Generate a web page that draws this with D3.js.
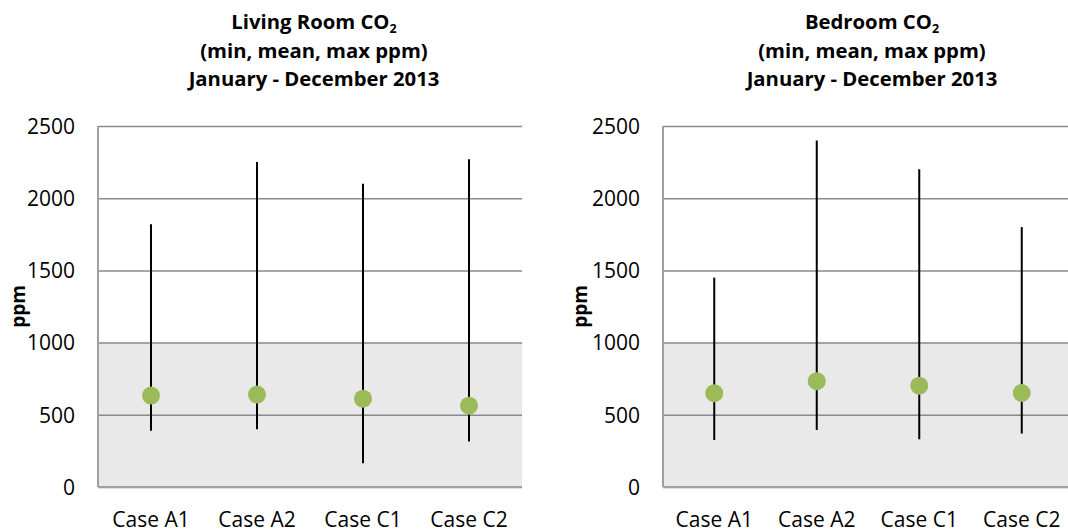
<!DOCTYPE html>
<html>
<head>
<meta charset="utf-8">
<script src="https://cdn.jsdelivr.net/npm/d3@7"></script>
<style>
  body { margin: 0; background: #fff; }
  svg { display: block; font-family: "Open Sans", sans-serif; }
</style>
</head>
<body>
<svg id="chart" width="1068" height="532"></svg>
<script>
// values (ppm)
const categories = ["Case A1", "Case A2", "Case C1", "Case C2"]

const livingMin = [390, 400, 165, 315]
const livingMean = [633, 640, 612, 563]
const livingMax = [1820, 2250, 2100, 2270]

const bedroomMin = [325, 395, 330, 370]
const bedroomMean = [650, 733, 702, 651]
const bedroomMax = [1450, 2400, 2200, 1800]

const yTicks = [0, 500, 1000, 1500, 2000, 2500]
const shadeLimit = 1000

const svg = d3.select("#chart")

drawPanel({
    room: "Living Room",
    left: 98, width: 424,
    tickRight: 75, labelX: 18,
    min: livingMin, mean: livingMean, max: livingMax
})

drawPanel({
    room: "Bedroom",
    left: 663, width: 410,
    tickRight: 640, labelX: 580,
    min: bedroomMin, mean: bedroomMean, max: bedroomMax
})

function drawPanel(p) {
    const top = 126
    const bottom = 487

    const x = d3.scaleBand()
        .domain(categories)
        .range([p.left, p.left + p.width])

    const y = d3.scaleLinear()
        .domain([0, 2500])
        .range([bottom, top])

    const g = svg.append("g")

    // grey band under 1000 ppm
    g.append("rect")
        .attr("x", p.left)
        .attr("y", y(shadeLimit))
        .attr("width", p.width)
        .attr("height", y(0) - y(shadeLimit))
        .attr("fill", "#e9e9e9")

    // gridlines + tick labels
    const yAxis = g.append("g")
        .attr("transform", `translate(${p.left},0)`)
        .call(d3.axisLeft(y).tickValues(yTicks).tickFormat(d3.format("d")).tickSize(-p.width))
    yAxis.select(".domain").remove()
    yAxis.selectAll(".tick line")
        .attr("stroke", "#8a8a8a")
        .attr("stroke-width", 1.5)
    yAxis.selectAll(".tick text")
        .attr("x", p.tickRight - p.left)
        .attr("dy", "0.35em")
        .attr("fill", "#000")
        .style("font-size", "21px")
        .style("font-family", "'Open Sans', sans-serif")

    // axis lines
    g.append("line")
        .attr("x1", p.left).attr("x2", p.left)
        .attr("y1", top).attr("y2", bottom)
        .attr("stroke", "#a0a0a0")
        .attr("stroke-width", 2)
    g.append("line")
        .attr("x1", p.left).attr("x2", p.left + p.width)
        .attr("y1", bottom).attr("y2", bottom)
        .attr("stroke", "#a0a0a0")
        .attr("stroke-width", 2)

    // category labels
    const xAxis = g.append("g")
        .attr("transform", `translate(0,${bottom})`)
        .call(d3.axisBottom(x).tickSize(0).tickPadding(0))
    xAxis.select(".domain").remove()
    xAxis.selectAll(".tick text")
        .attr("y", 40)
        .attr("dy", 0)
        .attr("fill", "#000")
        .style("font-size", "21px")
        .style("font-family", "'Open Sans', sans-serif")

    // min-max lines
    const rows = categories.map((c, i) => ({ cat: c, min: p.min[i], mean: p.mean[i], max: p.max[i] }))

    g.selectAll(".range")
        .data(rows)
        .enter()
        .append("line")
        .attr("class", "range")
        .attr("x1", d => x(d.cat) + x.bandwidth() / 2)
        .attr("x2", d => x(d.cat) + x.bandwidth() / 2)
        .attr("y1", d => y(d.min))
        .attr("y2", d => y(d.max))
        .attr("stroke", "#000")
        .attr("stroke-width", 2)

    // mean markers
    g.selectAll(".mean")
        .data(rows)
        .enter()
        .append("circle")
        .attr("class", "mean")
        .attr("cx", d => x(d.cat) + x.bandwidth() / 2)
        .attr("cy", d => y(d.mean))
        .attr("r", 9)
        .attr("fill", "#9bbb59")

    // y label
    g.append("text")
        .attr("transform", `translate(${p.labelX + 7},${(top + bottom) / 2}) rotate(-90)`)
        .attr("text-anchor", "middle")
        .style("font-size", "19px")
        .style("font-weight", "bold")
        .text("ppm")

    // title
    const cx = p.left + p.width / 2 + 4
    const t1 = g.append("text")
        .attr("x", cx).attr("y", 29)
        .attr("text-anchor", "middle")
        .style("font-size", "20.3px")
        .style("font-weight", "bold")
    t1.append("tspan").text(p.room + " CO")
    t1.append("tspan").attr("dy", 4).style("font-size", "12.5px").text("2")

    g.append("text")
        .attr("x", cx).attr("y", 58)
        .attr("text-anchor", "middle")
        .style("font-size", "20.3px")
        .style("font-weight", "bold")
        .text("(min, mean, max ppm)")

    g.append("text")
        .attr("x", cx).attr("y", 86)
        .attr("text-anchor", "middle")
        .style("font-size", "20.3px")
        .style("font-weight", "bold")
        .text("January - December 2013")
}
</script>
</body>
</html>
